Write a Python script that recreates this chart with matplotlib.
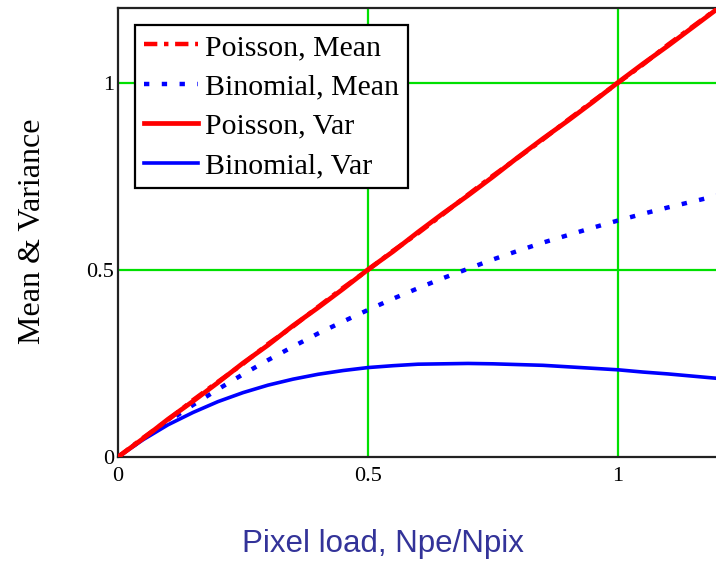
#Mean and variance of pixel counts, Poisson vs Binomial, against pixel load
import numpy as np
import matplotlib.pyplot as plt

#pixel load values (Npe/Npix)
load = [0.0, 0.05, 0.1, 0.15, 0.2, 0.25, 0.3, 0.35, 0.4, 0.45, 0.5, 0.55, 0.6,
        0.65, 0.7, 0.75, 0.8, 0.85, 0.9, 0.95, 1.0, 1.05, 1.1, 1.15, 1.2]

#poisson mean and variance (they sit on top of each other)
poisson_mean = [0.0, 0.051, 0.099, 0.152, 0.201, 0.249, 0.302, 0.349, 0.401, 0.452, 0.5, 0.551,
                0.598, 0.649, 0.701, 0.752, 0.8, 0.849, 0.901, 0.951, 1.0, 1.049, 1.102, 1.151, 1.2]
poisson_var = [0.0, 0.049, 0.101, 0.149, 0.199, 0.251, 0.299, 0.351, 0.399, 0.449, 0.501, 0.549,
               0.601, 0.651, 0.699, 0.749, 0.801, 0.851, 0.899, 0.949, 1.001, 1.051, 1.099, 1.149, 1.199]

#binomial mean (blue dots) and variance (blue line)
binom_mean = [0.0, 0.049, 0.095, 0.139, 0.181, 0.221, 0.259, 0.295, 0.33, 0.362, 0.393, 0.423,
              0.451, 0.478, 0.503, 0.528, 0.551, 0.573, 0.593, 0.613, 0.632, 0.65, 0.667, 0.683, 0.699]
binom_var = [0.0, 0.046, 0.086, 0.119, 0.148, 0.172, 0.192, 0.208, 0.221, 0.231, 0.239, 0.244,
             0.248, 0.249, 0.25, 0.249, 0.247, 0.245, 0.241, 0.237, 0.233, 0.227, 0.222, 0.216, 0.21]

#tick positions
ticks = [0, 0.5, 1]
tick_labels = ['0', '0.5', '1']

fig = plt.figure(figsize=(7.16, 5.63), dpi=100)
ax = fig.add_axes([0.1648, 0.1883, 0.8380, 0.7975])

#green grid lines only at 0.5 and 1
for t in ticks[1:]:
    ax.axvline(t, color='#00e000', lw=1.6, zorder=1)
    ax.axhline(t, color='#00e000', lw=1.6, zorder=1)

ax.plot(load, poisson_mean, color='red', lw=3.2, ls=(0, (3, 1.5, 1, 1.5)), label='Poisson, Mean', zorder=4)
ax.plot(load, binom_mean, color='blue', lw=3.2, ls=(0, (1.2, 2.8)), dash_capstyle='butt',
        label='Binomial, Mean', zorder=3)
ax.plot(load, poisson_var, color='red', lw=3.4, label='Poisson, Var', zorder=5)
ax.plot(load, binom_var, color='blue', lw=2.6, label='Binomial, Var', zorder=2)

ax.set_xlim(0, 1.2)
ax.set_ylim(0, 1.2)
ax.set_xticks(ticks)
ax.set_xticklabels(tick_labels)
ax.set_yticks(ticks)
ax.set_yticklabels(tick_labels)
ax.tick_params(length=0, labelsize=16)
ax.tick_params(axis='x', pad=7)
ax.tick_params(axis='y', pad=3)
for lab in ax.get_xticklabels() + ax.get_yticklabels():
    lab.set_family('Liberation Serif')

for s in ax.spines.values():
    s.set_linewidth(1.6)
    s.set_color('#222222')

leg = ax.legend(loc='upper left', bbox_to_anchor=(0.028, 0.962), prop={'family': 'Liberation Serif', 'size': 21.5},
                frameon=True, fancybox=False, edgecolor='black', framealpha=1,
                handlelength=1.8, handletextpad=0.25, labelspacing=0.42, borderpad=0.3, borderaxespad=0)
leg.get_frame().set_linewidth(1.6)

fig.text(0.046, 0.59, 'Mean & Variance', rotation=90, ha='center', va='center',
         family='Liberation Serif', fontsize=23)
fig.text(0.535, 0.033, 'Pixel load, Npe/Npix', ha='center', va='center',
         family='Liberation Sans', fontsize=22.5, color='#333399')

fig.savefig('out.png', dpi=100)
